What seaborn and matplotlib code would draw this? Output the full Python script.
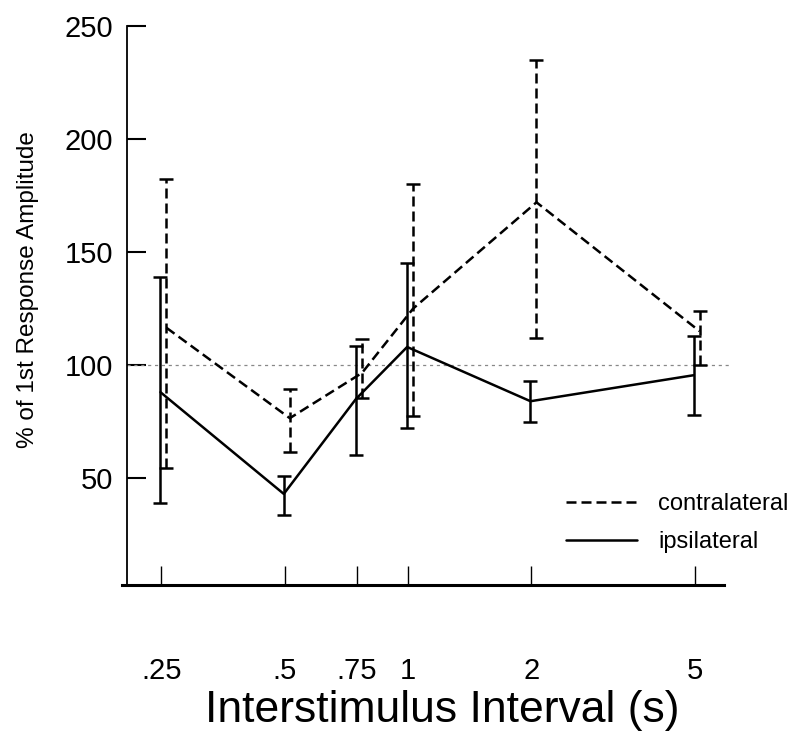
import numpy as np
import pandas as pd
import matplotlib
matplotlib.use('Agg')
import matplotlib.pyplot as plt
import matplotlib.transforms as mtransforms
from matplotlib.lines import Line2D
import seaborn as sns

# values
intervals = [0.25, 0.5, 0.75, 1, 2, 5]
tick_labels = ['.25', '.5', '.75', '1', '2', '5']

contra_mean = [116.5, 76.5, 96.5, 125, 172, 115]
contra_low = [54.5, 61.5, 85.5, 77.5, 112, 100]
contra_high = [182.5, 89.5, 111.5, 180, 235, 124]

ipsi_mean = [88, 43, 85, 108, 84, 95.5]
ipsi_low = [39, 33.5, 60, 72, 75, 78]
ipsi_high = [139, 51, 108.5, 145, 93, 113]

sns.set_style('ticks')
plt.rcParams['font.family'] = ['Liberation Sans', 'DejaVu Sans']
plt.rcParams['text.color'] = 'black'
plt.rcParams['axes.labelcolor'] = 'black'

df = pd.DataFrame({
    'interval': intervals * 2,
    'response': contra_mean + ipsi_mean,
    'low': contra_low + ipsi_low,
    'high': contra_high + ipsi_high,
    'side': ['contralateral'] * 6 + ['ipsilateral'] * 6,
})

fig = plt.figure(figsize=(8, 7.43), dpi=100)
ax = fig.add_axes([127 / 800, 1 - 585 / 743, (724 - 127) / 800, (585 - 26) / 743])

lw = 1.8
dash = (4, 2)
shift = {'contralateral': mtransforms.offset_copy(ax.transData, fig=fig, x=5, y=0, units='dots'),
         'ipsilateral': mtransforms.offset_copy(ax.transData, fig=fig, x=-1, y=0, units='dots')}

# reference line at 100 %
ax.axhline(100, color='#888888', lw=0.9, ls=(0, (2.5, 3)), xmax=1.01, clip_on=False, zorder=1)

for side, sub in df.groupby('side'):
    ls = (0, dash) if side == 'contralateral' else '-'
    sns.lineplot(data=sub, x='interval', y='response', color='black', lw=lw,
                 linestyle=ls, ax=ax, transform=shift[side], sort=False, legend=False)
    yerr = [sub['response'] - sub['low'], sub['high'] - sub['response']]
    eb = ax.errorbar(sub['interval'], sub['response'], yerr=yerr, fmt='none',
                     ecolor='black', elinewidth=lw, capsize=5, capthick=lw)
    for cap in eb[1]:
        cap.set_transform(shift[side])
    for col in eb[2]:
        col.set_transform(shift[side])
        if side == 'contralateral':
            col.set_linestyle((0, dash))

ax.set_xscale('log')
ax.set_xlim(0.206, 5.9)
ax.set_ylim(2.7, 250)
ax.set_xticks(intervals)
ax.set_xticklabels(tick_labels)
ax.xaxis.set_minor_locator(matplotlib.ticker.NullLocator())
ax.set_yticks([50, 100, 150, 200, 250])

sns.despine(ax=ax)
ax.spines['bottom'].set_linewidth(2.2)
ax.spines['left'].set_linewidth(1.3)
ax.spines['bottom'].set_color('black')
ax.spines['left'].set_color('black')
ax.spines['bottom'].set_bounds(0.2, 5.9)

ax.tick_params(axis='x', which='major', bottom=True, direction='in', length=14, width=1.0,
               pad=52, labelsize=21, colors='black')
ax.tick_params(axis='y', which='major', left=True, direction='in', length=14, width=1.5,
               pad=10, labelsize=21, colors='black')

ax.set_xlabel('Interstimulus Interval (s)', fontsize=32)
ax.xaxis.set_label_coords(0.528, -0.188)
ax.set_ylabel('% of 1st Response Amplitude', fontsize=17.5)
ax.yaxis.set_label_coords(-0.148, 0.528)

handles = [Line2D([], [], color='black', lw=lw, ls=(0, dash)),
           Line2D([], [], color='black', lw=lw, ls='-')]
ax.legend(handles, ['contralateral', 'ipsilateral'], frameon=False, fontsize=17,
          loc='upper left', bbox_to_anchor=(566 / 800, 1 - 493 / 743),
          bbox_transform=fig.transFigure, borderpad=0, borderaxespad=0,
          handlelength=3.0, handletextpad=0.9, labelspacing=0.68)

fig.savefig('out.png', dpi=100)
